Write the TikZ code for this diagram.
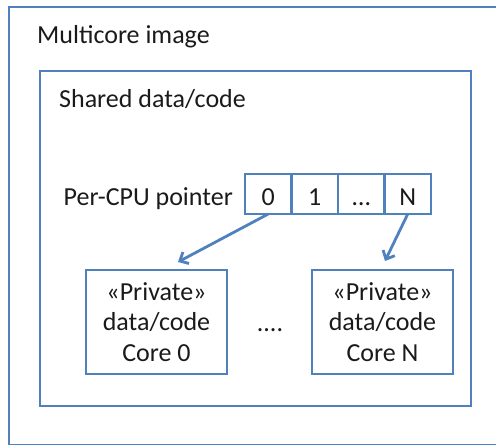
\documentclass[tikz,border=0pt]{standalone}
\usepackage{fontspec}
\setmainfont{Carlito}
\usetikzlibrary{positioning, arrows.meta}
\definecolor{boxblue}{HTML}{4F81BD}
\definecolor{inkgray}{HTML}{1A1A1A}

\begin{document}
\begin{tikzpicture}[
    x=1pt, y=-1pt,
    node distance=0pt,
    font=\fontsize{26}{30.5}\selectfont,
    frame/.style={rectangle, draw=boxblue, line width=2.8pt, anchor=north west,
                  inner sep=0pt, outer sep=0pt},
    cell/.style={rectangle, draw=boxblue, line width=2.8pt, text=inkgray,
                 minimum width=46.5pt, minimum height=40pt, text height=22pt, text depth=0pt,
                 inner sep=0pt, outer sep=0pt},
    private/.style={frame, minimum width=141pt, minimum height=104pt, align=center, text=inkgray},
    label/.style={text=inkgray, inner sep=0pt},
    arrow/.style={-{Straight Barb[length=7pt, width=13pt]}, line width=2.8pt, boxblue}
  ]
    \useasboundingbox (0,0) rectangle (496,445);
    % containers
    \node[frame, minimum width=500pt, minimum height=438.5pt] (image) at (9,7) {};
    \node[frame, minimum width=431pt, minimum height=335pt] (shared) at (40,71) {};
    \node[label, anchor=base west] (imagetitle) at (37,43) {Multicore image};
    \node[label, anchor=base west] (sharedtitle) at (59,107) {Shared data/code};
    % per-CPU pointer array
    \node[cell, anchor=north west] (c0) at (245,174) {0};
    \node[cell, right=of c0] (c1) {1};
    \node[cell, right=of c1] (c2) {…};
    \node[cell, right=of c2] (cN) {N};
    \node[label, anchor=base east] (ptrlabel) at (233,205) {Per-CPU pointer};
    % private areas
    \node[private] (core0) at (86,270) {«Private»\\data/code\\Core 0};
    \node[private] (coreN) at (312,270) {«Private»\\data/code\\Core N};
    \node[label, anchor=base] (gap) at (270,331) {....};
    \coordinate (tip0) at (178,262);
    \coordinate (tipN) at (385,261);
    \draw[arrow] (c0.south) -- (tip0);
    \draw[arrow] (cN.south) -- (tipN);
  \end{tikzpicture}
\end{document}
